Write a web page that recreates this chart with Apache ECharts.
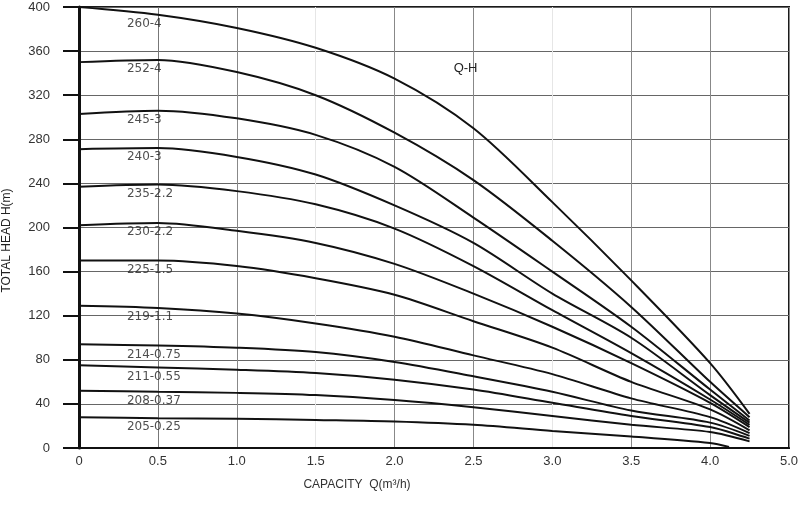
<!DOCTYPE html>
<html>
<head>
<meta charset="utf-8">
<script src="https://cdn.jsdelivr.net/npm/echarts@6/dist/echarts.min.js"></script>
<style>html,body{margin:0;padding:0;background:#fff;}#c{width:800px;height:510px;}</style>
</head>
<body>
<div id="c"></div>
<script>
// Capacity points (m3/h) where heads were read
const Q = [0, 0.5, 1.0, 1.5, 2.0, 2.5, 3.0, 3.5, 4.0, 4.25];
const Q_205 = [0, 0.5, 1.0, 1.5, 2.0, 2.5, 3.0, 3.5, 4.0, 4.12];

const MODELS = ['260-4', '252-4', '245-3', '240-3', '235-2.2', '230-2.2',
                '225-1.5', '219-1.1', '214-0.75', '211-0.55', '208-0.37', '205-0.25'];

const H_260_4    = [400, 393, 381, 363, 335, 290, 223, 152, 77, 31];
const H_252_4    = [350, 352, 341, 320, 286, 243, 188, 128, 60, 28];
const H_245_3    = [303, 306, 299, 284, 255, 209, 160, 110, 53, 25];
const H_240_3    = [271, 272, 264, 248, 220, 186, 140, 100, 48, 23];
const H_235_2_2  = [237, 239, 233, 221, 199, 165, 125, 86, 44, 21];
const H_230_2_2  = [202, 204, 197, 186, 167, 140, 110, 77, 41, 19];
const H_225_1_5  = [170, 170, 165, 154, 139, 115, 91, 60, 35, 16];
const H_219_1_1  = [129, 127, 122, 113, 101, 84, 67, 45, 28, 13.5];
const H_214_0_75 = [94, 93, 91, 87, 78, 65, 51, 34, 23, 11];
const H_211_0_55 = [75, 73, 71, 68, 62, 53, 41, 29, 19, 8.5];
const H_208_0_37 = [52, 51, 50, 48, 43.5, 37, 29, 21, 14.5, 6];
const H_205_0_25 = [28, 27, 26.6, 25.4, 24, 21, 15.5, 10.5, 4.5, 1];

const HEADS = [H_260_4, H_252_4, H_245_3, H_240_3, H_235_2_2, H_230_2_2,
               H_225_1_5, H_219_1_1, H_214_0_75, H_211_0_55, H_208_0_37, H_205_0_25];

const X_TICK_LABELS = ['0', '0.5', '1.0', '1.5', '2.0', '2.5', '3.0', '3.5', '4.0', '5.0'];
const CURVE_TITLE = 'Q-H';
const CURVE_TITLE_AT = [2.45, 344];
const LABEL_INDEX = 1; // model label hangs under the point at Q = 0.5

const FONT = '"Liberation Sans", Arial, sans-serif';
const LABEL_FONT = '"DejaVu Sans", sans-serif';

const series = [];
HEADS.forEach(function (h, k) {
  const qs = (k === HEADS.length - 1) ? Q_205 : Q;
  const s = {
    type: 'line',
    name: MODELS[k],
    data: h.map(function (v, i) { return [qs[i], v]; }),
    smooth: 0.3,
    symbol: 'none',
    lineStyle: { color: '#111', width: 2 },
    silent: true,
    z: 5
  };
  if (k === 0) {
    s.markPoint = {
      symbol: 'circle', symbolSize: 0,
      data: [{ coord: CURVE_TITLE_AT, value: CURVE_TITLE }],
      label: { show: true, formatter: CURVE_TITLE, color: '#222', fontFamily: FONT, fontSize: 13, position: 'inside' }
    };
  }
  series.push(s);
  series.push({
    type: 'scatter',
    name: MODELS[k] + ' label',
    data: [[qs[LABEL_INDEX], h[LABEL_INDEX]]],
    symbolSize: 0,
    silent: true,
    z: 6,
    label: {
      show: true,
      formatter: MODELS[k],
      position: [-31, 3],
      align: 'left',
      verticalAlign: 'top',
      color: '#222',
      fontFamily: LABEL_FONT,
      fontSize: 12
    }
  });
});

const chart = echarts.init(document.getElementById('c'), null, { renderer: 'canvas' });
chart.setOption({
  animation: false,
  backgroundColor: '#fff',
  grid: {
    left: 79, right: 11, top: 7, bottom: 62,
    containLabel: false, outerBoundsMode: 'none',
    show: true, borderColor: '#1a1a1a', borderWidth: 2, backgroundColor: 'transparent'
  },
  xAxis: {
    type: 'value', min: 0, max: 4.5, interval: 0.5,
    name: 'CAPACITY  Q(m³/h)',
    nameLocation: 'middle', nameGap: 31,
    nameTextStyle: { color: '#333', fontFamily: FONT, fontSize: 12, padding: [0, 154, 0, 0] },
    axisLine: { show: true, lineStyle: { color: '#111', width: 2 } },
    axisTick: { show: false },
    axisLabel: {
      margin: 7, color: '#333', fontFamily: FONT, fontSize: 13,
      formatter: function (v) { const i = Math.round(v / 0.5); return X_TICK_LABELS[i] || ''; }
    },
    splitLine: {
      show: true, showMinLine: true, showMaxLine: true,
      lineStyle: { width: 1, color: ['#777', '#777', '#888', '#e6e6e6', '#888', '#888', '#e6e6e6', '#888', '#888', '#888'] }
    }
  },
  yAxis: {
    type: 'value', min: 0, max: 400, interval: 40,
    name: 'TOTAL HEAD H(m)',
    nameLocation: 'middle', nameGap: 66, nameRotate: 90,
    nameTextStyle: { color: '#222', fontFamily: FONT, fontSize: 12, padding: [0, 26, 0, 0] },
    axisLine: { show: true, lineStyle: { color: '#111', width: 3 } },
    axisTick: { show: true, inside: false, length: 16, lineStyle: { color: '#111', width: 2 } },
    axisLabel: { margin: 29, color: '#333', fontFamily: FONT, fontSize: 13 },
    splitLine: { show: true, lineStyle: { color: '#666', width: 1 } }
  },
  series: series
});
</script>
</body>
</html>
